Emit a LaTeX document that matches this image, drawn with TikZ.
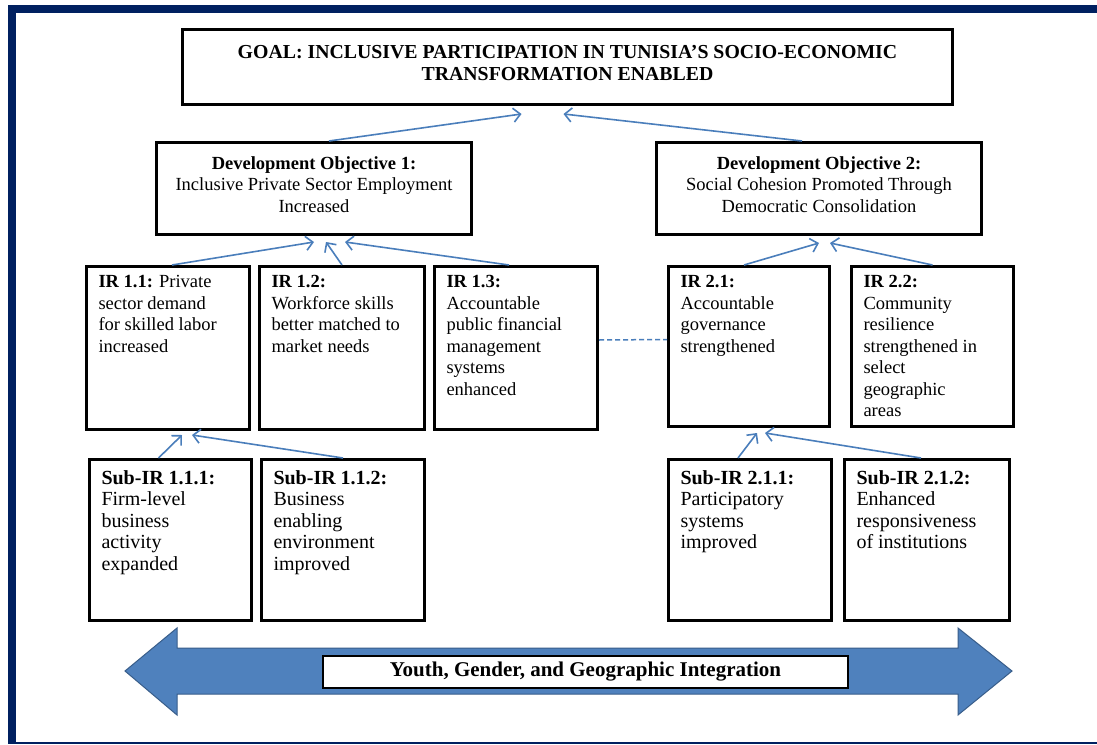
\documentclass[tikz,border=0pt]{standalone}
\usepackage{fontspec}
\setmainfont{Liberation Serif}
\usetikzlibrary{calc, arrows.meta}

\definecolor{frameblue}{RGB}{0,32,96}
\definecolor{bandblue}{RGB}{79,129,189}
\definecolor{bandedge}{RGB}{56,93,138}
\definecolor{linkblue}{RGB}{74,126,187}

\newcommand{\boxfont}{\fontsize{18.5}{21.5}\selectfont}
\newcommand{\goalfont}{\fontsize{19.8}{21.5}\selectfont}
\newcommand{\subfont}{\fontsize{20}{21.5}\selectfont}
\newcommand{\toptext}[3]{\parbox[t][#2][t]{#1}{\raggedright #3}}
\newcommand{\midtext}[3]{\parbox[t][#2][t]{#1}{\centering #3}}

\begin{document}
\begin{tikzpicture}[x=1pt, y=-1pt,
  box/.style={draw, line width=3pt, inner xsep=12pt, anchor=north west},
  topbox/.style={box, inner xsep=0pt, font=\boxfont},
  irbox/.style={box, inner ysep=9pt, font=\boxfont},
  subbox/.style={box, inner ysep=11pt, font=\subfont},
  link/.style={draw=linkblue, line width=1.6pt, -{Straight Barb[length=7pt,width=14pt]}}]
  \useasboundingbox (0,0) rectangle (1097,744);
  % frame
  \fill[frameblue] (8,5) rectangle (1097,744);
  \fill[white] (16,13) rectangle (1097,742);

  % goal and objectives
  \node[topbox, inner ysep=16pt, font=\goalfont] (goal) at (181,28)
    {\midtext{770pt}{43pt}{\bfseries GOAL: INCLUSIVE PARTICIPATION IN TUNISIA'S SOCIO-ECONOMIC\\ TRANSFORMATION ENABLED}};
  \node[topbox, inner ysep=14pt] (do1) at (155,141)
    {\midtext{315pt}{64pt}{\textbf{Development Objective 1:}\\ Inclusive Private Sector Employment\\ Increased}};
  \node[topbox, inner ysep=14pt] (do2) at (655,141)
    {\midtext{325pt}{64pt}{\textbf{Development Objective 2:}\\ Social Cohesion Promoted Through\\ Democratic Consolidation}};

  % intermediate results
  \node[irbox] (ir11) at (85,265)
    {\toptext{139pt}{145pt}{\textbf{IR 1.1:} Private\\ sector demand\\ for skilled labor\\ increased}};
  \node[irbox] (ir12) at (258,265)
    {\toptext{141pt}{145pt}{\textbf{IR 1.2:}\\ Workforce skills\\ better matched to\\ market needs}};
  \node[irbox] (ir13) at (433,265)
    {\toptext{139pt}{145pt}{\textbf{IR 1.3:}\\ Accountable\\ public financial\\ management\\ systems\\ enhanced}};
  \node[irbox] (ir21) at (667,265)
    {\toptext{137pt}{142pt}{\textbf{IR 2.1:}\\ Accountable\\ governance\\ strengthened}};
  \node[irbox] (ir22) at (850,265)
    {\toptext{138pt}{142pt}{\textbf{IR 2.2:}\\ Community\\ resilience\\ strengthened in\\ select\\ geographic\\ areas}};

  % sub-results
  \node[subbox] (sub111) at (88,458)
    {\toptext{138pt}{139pt}{\textbf{Sub-IR 1.1.1:}\\ Firm-level\\ business\\ activity\\ expanded}};
  \node[subbox] (sub112) at (260,458)
    {\toptext{139pt}{139pt}{\textbf{Sub-IR 1.1.2:}\\ Business\\ enabling\\ environment\\ improved}};
  \node[subbox] (sub211) at (667,458)
    {\toptext{139pt}{139pt}{\textbf{Sub-IR 2.1.1:}\\ Participatory\\ systems\\ improved}};
  \node[subbox] (sub212) at (843,458)
    {\toptext{141pt}{139pt}{\textbf{Sub-IR 2.1.2:}\\ Enhanced\\ responsiveness\\ of institutions}};

  % links up the tree
  \draw[link] ($(do1.north)+(15,0)$) -- ($(goal.south)+(-46,8)$);
  \draw[link] ($(do2.north)+(-17,0)$) -- ($(goal.south)+(-4,8)$);
  \draw[link] ($(ir11.north)+(4,0)$) -- ($(do1.south)+(0,6)$);
  \draw[link] (ir12.north) -- ($(do1.south)+(12,6)$);
  \draw[link] ($(ir13.north)+(-7,0)$) -- ($(do1.south)+(31,6)$);
  \draw[link] ($(ir21.north)+(-5,0)$) -- ($(do2.south)+(0,7)$);
  \draw[link] (ir22.north) -- ($(do2.south)+(11,7)$);
  \draw[link] ($(sub111.north)+(-12,0)$) -- ($(ir11.south)+(14,4)$);
  \draw[link] (sub112.north) -- ($(ir11.south)+(24,4)$);
  \draw[link] ($(sub211.north)+(-12,0)$) -- ($(ir21.south)+(8,5)$);
  \draw[link] ($(sub212.north)+(-6,0)$) -- ($(ir21.south)+(16,5)$);
  \draw[linkblue, line width=1.5pt, dash pattern=on 5pt off 3pt] ($(ir13.east)+(0,-8)$) -- ($(ir21.west)+(0,-7)$);

  % cross-cutting band
  \filldraw[fill=bandblue, draw=bandedge, line width=1pt]
    (125,671) -- (177,628) -- (177,648) -- (958,648) -- (958,628) -- (1012,671)
    -- (958,715) -- (958,694) -- (177,694) -- (177,715) -- cycle;
  \node[draw, fill=white, line width=1.5pt, minimum width=525pt, minimum height=32pt,
    font=\fontsize{21}{24}\selectfont\bfseries] (theme) at (585.5,672)
    {Youth, Gender, and Geographic Integration};
\end{tikzpicture}
\end{document}
